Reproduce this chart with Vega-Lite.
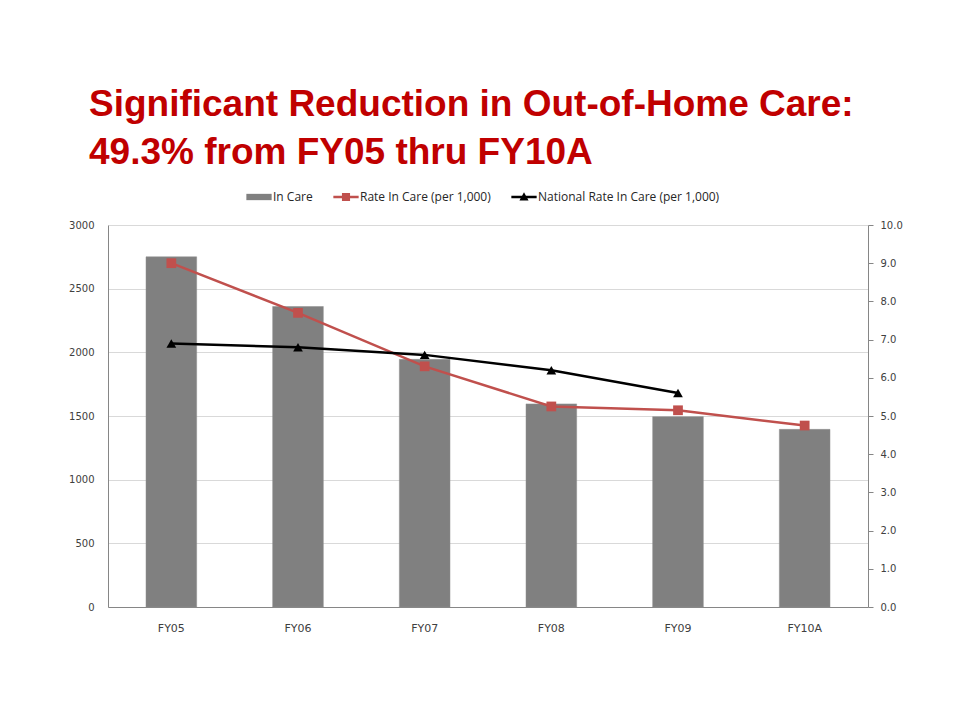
{
  "$schema": "https://vega.github.io/schema/vega-lite/v6.json",
  "autosize": {"type": "none"},
  "width": 760,
  "height": 382,
  "padding": {"left": 108, "top": 225, "right": 88, "bottom": 115},
  "background": "white",
  "config": {
    "view": {"stroke": null},
    "font": "DejaVu Sans"
  },
  "title": {
    "text": ["Significant Reduction in Out-of-Home Care:", "49.3% from FY05 thru FY10A"],
    "anchor": "start",
    "frame": "group",
    "dx": -19,
    "offset": 12,
    "font": "Liberation Sans",
    "fontSize": 37,
    "fontWeight": "bold",
    "lineHeight": 48,
    "color": "#C00000"
  },
  "datasets": {
    "incare": [
      {"fy": "FY05", "inCare": 2750},
      {"fy": "FY06", "inCare": 2360},
      {"fy": "FY07", "inCare": 1945},
      {"fy": "FY08", "inCare": 1595},
      {"fy": "FY09", "inCare": 1495},
      {"fy": "FY10A", "inCare": 1395}
    ],
    "rates": [
      {"fy": "FY05", "series": "Rate In Care (per 1,000)", "rate": 9.0},
      {"fy": "FY06", "series": "Rate In Care (per 1,000)", "rate": 7.7},
      {"fy": "FY07", "series": "Rate In Care (per 1,000)", "rate": 6.3},
      {"fy": "FY08", "series": "Rate In Care (per 1,000)", "rate": 5.25},
      {"fy": "FY09", "series": "Rate In Care (per 1,000)", "rate": 5.15},
      {"fy": "FY10A", "series": "Rate In Care (per 1,000)", "rate": 4.75},
      {"fy": "FY05", "series": "National Rate In Care (per 1,000)", "rate": 6.9},
      {"fy": "FY06", "series": "National Rate In Care (per 1,000)", "rate": 6.8},
      {"fy": "FY07", "series": "National Rate In Care (per 1,000)", "rate": 6.6},
      {"fy": "FY08", "series": "National Rate In Care (per 1,000)", "rate": 6.2},
      {"fy": "FY09", "series": "National Rate In Care (per 1,000)", "rate": 5.6}
    ]
  },
  "encoding": {
    "x": {
      "field": "fy",
      "type": "nominal",
      "sort": ["FY05", "FY06", "FY07", "FY08", "FY09", "FY10A"],
      "scale": {"paddingInner": 0.6, "paddingOuter": 0.3},
      "axis": {
        "title": null,
        "labelAngle": 0,
        "ticks": false,
        "domainColor": "#868686",
        "labelPadding": 15,
        "labelFont": "DejaVu Sans",
        "labelFontSize": 11,
        "labelColor": "#404040"
      }
    }
  },
  "layer": [
    {
      "data": {"name": "incare"},
      "mark": {"type": "bar", "fill": "#808080", "stroke": "#8f8f8f", "strokeWidth": 0.5},
      "encoding": {
        "y": {
          "field": "inCare",
          "type": "quantitative",
          "scale": {"domain": [0, 3000], "nice": false},
          "axis": {
            "title": null,
            "orient": "left",
            "values": [0, 500, 1000, 1500, 2000, 2500, 3000],
            "format": "d",
            "grid": true,
            "gridColor": "#d9d9d9",
            "ticks": false,
            "domainColor": "#868686",
            "labelPadding": 14,
            "labelFont": "DejaVu Sans",
            "labelFontSize": 10,
            "labelColor": "#404040"
          }
        },
        "color": {"datum": "In Care"}
      }
    },
    {
      "data": {"name": "rates"},
      "encoding": {
        "y": {
          "field": "rate",
          "type": "quantitative",
          "scale": {"domain": [0, 10], "nice": false},
          "axis": {
            "title": null,
            "orient": "right",
            "values": [0, 1, 2, 3, 4, 5, 6, 7, 8, 9, 10],
            "format": ".1f",
            "grid": false,
            "tickSize": 5,
            "tickColor": "#868686",
            "domainColor": "#868686",
            "labelPadding": 7,
            "labelFont": "DejaVu Sans",
            "labelFontSize": 10,
            "labelColor": "#404040"
          }
        },
        "color": {
          "field": "series",
          "type": "nominal",
          "scale": {
            "domain": ["In Care", "Rate In Care (per 1,000)", "National Rate In Care (per 1,000)"],
            "range": ["#808080", "#C0504D", "#000000"]
          },
          "legend": {
            "title": null,
            "orient": "none",
            "direction": "horizontal",
            "legendX": 138,
            "legendY": -41,
            "padding": 0,
            "columnPadding": 20,
            "labelOffset": 1,
            "labelLimit": 400,
            "labelFont": "Open Sans",
            "labelFontSize": 12,
            "labelColor": "#262626",
            "symbolSize": 640,
            "symbolStrokeWidth": 0,
            "encode": {
              "symbols": {
                "update": {
                  "shape": {"signal": "datum.value === 'In Care' ? 'M-1,-0.25H1V0.25H-1Z' : (datum.value === 'Rate In Care (per 1,000)' ? 'M-1,-0.1H1V0.1H-1Z M-0.32,-0.32H0.32V0.32H-0.32Z' : 'M-1,-0.1H1V0.1H-1Z M0,-0.38L0.36,0.28H-0.36Z')"},
                  "fill": {"scale": "color", "field": "value"},
                  "fillOpacity": {"value": 1},
                  "strokeWidth": {"value": 0},
                  "opacity": {"value": 1}
                }
              }
            }
          }
        }
      },
      "layer": [
        {"mark": {"type": "line", "strokeWidth": 2.5}},
        {
          "mark": {"type": "point", "filled": true, "size": 95, "opacity": 1},
          "encoding": {
            "shape": {
              "field": "series",
              "type": "nominal",
              "scale": {
                "domain": ["Rate In Care (per 1,000)", "National Rate In Care (per 1,000)"],
                "range": ["square", "triangle-up"]
              },
              "legend": null
            }
          }
        }
      ]
    }
  ],
  "resolve": {"scale": {"y": "independent"}}
}
